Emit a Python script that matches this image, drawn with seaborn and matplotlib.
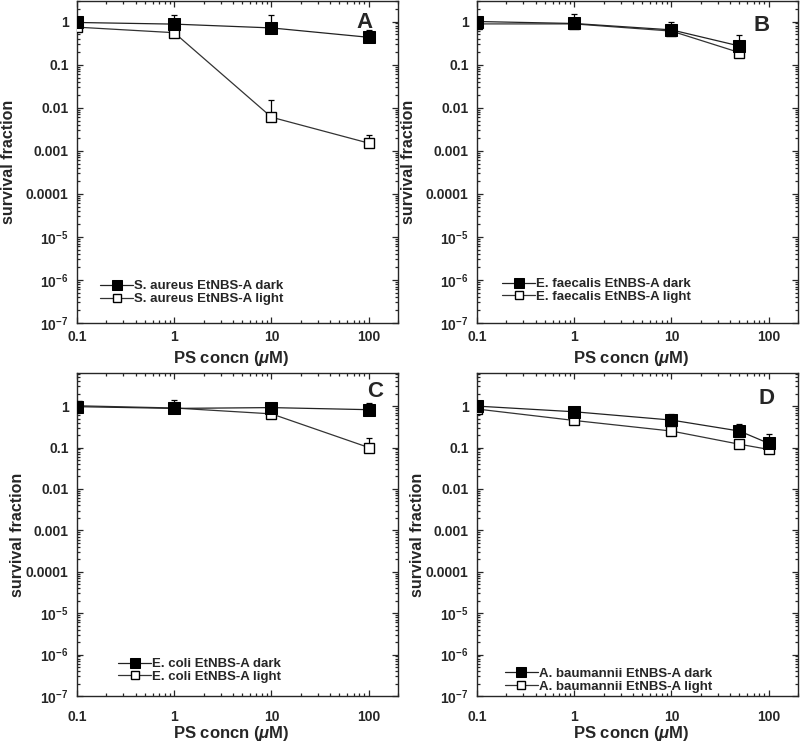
import numpy as np
import pandas as pd
import seaborn as sns
import matplotlib.pyplot as plt
from matplotlib.ticker import FixedLocator, FixedFormatter, LogLocator, NullFormatter

# concentrations (uM)
conc_a = [0.1, 1, 10, 100]
conc_b = [0.1, 1, 10, 50]
conc_c = [0.1, 1, 10, 100]
conc_d = [0.1, 1, 10, 50, 100]

# survival fractions (mean) and upper end of error bars
a_dark = [0.95, 0.87, 0.71, 0.43]
a_dark_up = [0.95, 1.38, 1.38, 0.64]
a_light = [0.74, 0.55, 0.006, 0.0015]
a_light_up = [0.74, 0.55, 0.0147, 0.0023]

b_dark = [1.0, 0.9, 0.64, 0.27]
b_dark_up = [1.0, 1.5, 0.95, 0.48]
b_light = [0.88, 0.88, 0.6, 0.19]
b_light_up = [0.88, 0.88, 0.6, 0.19]

c_dark = [0.97, 0.88, 0.92, 0.82]
c_dark_up = [1.2, 1.37, 1.1, 1.2]
c_light = [1.02, 0.9, 0.65, 0.1]
c_light_up = [1.2, 0.9, 0.65, 0.17]

d_dark = [1.0, 0.73, 0.46, 0.25, 0.126]
d_dark_up = [1.0, 0.9, 0.65, 0.37, 0.21]
d_light = [0.85, 0.45, 0.25, 0.12, 0.09]
d_light_up = [0.85, 0.52, 0.3, 0.14, 0.1]

species = ['S. aureus', 'E. faecalis', 'E. coli', 'A. baumannii']
letters = ['A', 'B', 'C', 'D']

ytick_vals = [1e-7, 1e-6, 1e-5, 1e-4, 1e-3, 1e-2, 1e-1, 1]
ytick_labels = [r'$\mathbf{10^{-7}}$', r'$\mathbf{10^{-6}}$', r'$\mathbf{10^{-5}}$',
                '0.0001', '0.001', '0.01', '0.1', '1']
xtick_vals = [0.1, 1, 10, 100]
xtick_labels = ['0.1', '1', '10', '100']

sns.set_style('ticks')
plt.rcParams['font.family'] = ['Liberation Sans', 'DejaVu Sans']
plt.rcParams['font.weight'] = 'bold'
plt.rcParams['mathtext.fontset'] = 'custom'
plt.rcParams['mathtext.bf'] = 'Liberation Sans:bold'
plt.rcParams['mathtext.rm'] = 'Liberation Sans:bold'
plt.rcParams['mathtext.it'] = 'Liberation Sans:bold:italic'

fig = plt.figure(figsize=(8, 7.42), dpi=100)

panels = [
    (conc_a, a_dark, a_dark_up, a_light, a_light_up),
    (conc_b, b_dark, b_dark_up, b_light, b_light_up),
    (conc_c, c_dark, c_dark_up, c_light, c_light_up),
    (conc_d, d_dark, d_dark_up, d_light, d_light_up),
]
# axes rects in figure fraction
rects = [
    [0.09625, 0.5647, 0.40125, 0.4340],
    [0.59625, 0.5647, 0.40125, 0.4340],
    [0.09625, 0.0620, 0.40125, 0.4353],
    [0.59625, 0.0620, 0.40125, 0.4353],
]
ytops = [3, 3, 6.3, 6.3]
leg_anchor = [(0.072, 0.055), (0.078, 0.062), (0.128, 0.040), (0.087, 0.010)]
letter_pos = [(0.897, 0.932), (0.888, 0.923), (0.928, 0.944), (0.903, 0.92)]
xpad = [5, 5, 10, 10]
xlab_y = [-0.08, -0.08, -0.087, -0.087]
ylab_x = [-0.19, -0.19, -0.162, -0.162]

for i, (conc, dark, dark_up, light, light_up) in enumerate(panels):
    ax = fig.add_axes(rects[i])
    df = pd.DataFrame({'conc': conc, 'dark': dark, 'light': light})

    dark_err = np.array(dark_up) - np.array(dark)
    light_err = np.array(light_up) - np.array(light)
    ax.errorbar(conc, light, yerr=[np.zeros(len(conc)), light_err], fmt='none',
                ecolor='black', elinewidth=0.9, capsize=2.5, capthick=0.9, zorder=1)
    ax.errorbar(conc, dark, yerr=[np.zeros(len(conc)), dark_err], fmt='none',
                ecolor='black', elinewidth=0.9, capsize=2.5, capthick=0.9, zorder=1)

    sns.lineplot(data=df, x='conc', y='light', ax=ax, color='#333333', lw=0.9,
                 marker='s', markersize=7.5, markerfacecolor='white',
                 markeredgecolor='black', markeredgewidth=1.0,
                 label=species[i] + ' EtNBS-A light', zorder=3)
    sns.lineplot(data=df, x='conc', y='dark', ax=ax, color='#222222', lw=0.9,
                 marker='s', markersize=8.5, markerfacecolor='black',
                 markeredgecolor='black',
                 label=species[i] + ' EtNBS-A dark', zorder=4)

    ax.set_xscale('log')
    ax.set_yscale('log')
    ax.set_xlim(0.1, 200)
    ax.set_ylim(1e-7, ytops[i])

    ax.yaxis.set_major_locator(FixedLocator(ytick_vals))
    ax.yaxis.set_major_formatter(FixedFormatter(ytick_labels))
    ax.yaxis.set_minor_locator(LogLocator(base=10, subs=np.arange(2, 10), numticks=20))
    ax.yaxis.set_minor_formatter(NullFormatter())
    ax.xaxis.set_major_locator(FixedLocator(xtick_vals))
    ax.xaxis.set_major_formatter(FixedFormatter(xtick_labels))
    ax.xaxis.set_minor_locator(LogLocator(base=10, subs=np.arange(2, 10), numticks=20))
    ax.xaxis.set_minor_formatter(NullFormatter())

    ax.tick_params(which='both', direction='in', top=True, right=True, width=0.9,
                   labelsize=10)
    ax.tick_params(which='major', length=4.5)
    ax.tick_params(which='minor', length=2.5)
    ax.tick_params(axis='x', pad=xpad[i])
    ax.tick_params(axis='y', pad=6)
    for s in ax.spines.values():
        s.set_linewidth(1.0)

    ax.set_xlabel(r'PS concn ($\mu$M)', fontsize=12, fontweight='bold')
    ax.xaxis.set_label_coords(0.48, xlab_y[i])
    ax.set_ylabel('survival fraction', fontsize=11.5, fontweight='bold')
    ax.yaxis.set_label_coords(ylab_x[i], 0.5)

    ax.text(letter_pos[i][0], letter_pos[i][1], letters[i], transform=ax.transAxes,
            fontsize=16, fontweight='bold', ha='center', va='center')

    handles, labels = ax.get_legend_handles_labels()
    ax.legend(handles[::-1], labels[::-1], loc='lower left', bbox_to_anchor=leg_anchor[i],
              frameon=False, fontsize=9.5, handlelength=2.5, handletextpad=0.1,
              labelspacing=0.05, borderpad=0, borderaxespad=0, markerscale=0.8)

fig.savefig('out.png', dpi=100)
